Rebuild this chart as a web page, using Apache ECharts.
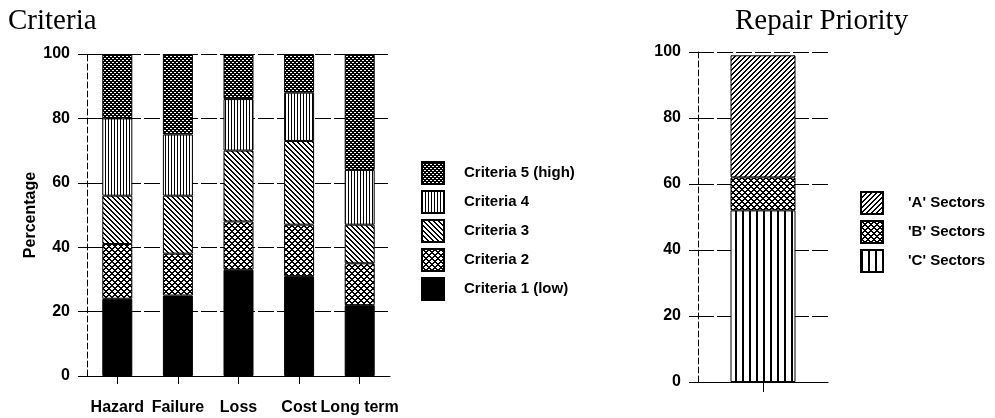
<!DOCTYPE html>
<html><head><meta charset="utf-8">
<script src="https://cdn.jsdelivr.net/npm/echarts@6/dist/echarts.min.js"></script>
<style>html,body{margin:0;padding:0;background:#fff}#c{width:995px;height:418px}</style>
</head><body><div id="c"></div>
<script>
// ---- data ----
const categories = ['Hazard', 'Failure', 'Loss', 'Cost', 'Long term'];
const criteriaNames = ['Criteria 1 (low)', 'Criteria 2', 'Criteria 3', 'Criteria 4', 'Criteria 5 (high)'];
const criteria1 = [24, 25, 33, 31, 22];
const criteria2 = [17, 13, 15, 16, 13];
const criteria3 = [15, 18, 22, 26, 12];
const criteria4 = [24, 19, 16, 15, 17];
const criteria5 = [20, 25, 14, 12, 36];
const sectorNames = ["'C' Sectors", "'B' Sectors", "'A' Sectors"];
const sectorC = [52];
const sectorB = [10];
const sectorA = [37];
const yTicks = [0, 20, 40, 60, 80, 100];

// ---- patterns ----
function pat(w, h, fn) {
  const c = document.createElement('canvas');
  c.width = w; c.height = h;
  const ctx = c.getContext('2d');
  ctx.fillStyle = '#fff'; ctx.fillRect(0, 0, w, h);
  ctx.fillStyle = '#000';
  for (let y = 0; y < h; y++) for (let x = 0; x < w; x++) if (fn(x, y)) ctx.fillRect(x, y, 1, 1);
  return { image: c, repeat: 'repeat' };
}
const md = (a, n) => ((a % n) + n) % n;
const P = {
  c1: '#000',
  c2: pat(6, 6, (x, y) => md(x + y, 6) < 2 || md(x - y, 6) < 2),
  c3: pat(5, 5, (x, y) => md(x - y, 5) < 2),
  c4: pat(3, 1, (x) => x === 0),
  c5: pat(4, 4, (x, y) => md(x + y, 4) < 2 || md(x - y, 4) < 2),
  A: pat(5, 5, (x, y) => md(x + y, 5) < 2),
  B: pat(6, 6, (x, y) => md(x + y, 6) < 2 || md(x - y, 6) < 2),
  C: pat(7, 1, (x) => x < 2)
};

const FONT = 'Liberation Sans';
const crit = [criteria1, criteria2, criteria3, criteria4, criteria5];
const critColors = [P.c1, P.c2, P.c3, P.c4, P.c5];
const sect = [sectorC, sectorB, sectorA];
const sectColors = [P.C, P.B, P.A];

const series = [];
crit.forEach((d, i) => series.push({
  name: criteriaNames[i], type: 'bar', stack: 'crit', xAxisIndex: 0, yAxisIndex: 0,
  data: d, barWidth: 30,
  itemStyle: { color: critColors[i], borderColor: '#000', borderWidth: 1 }
}));
sect.forEach((d, i) => series.push({
  name: sectorNames[i], type: 'bar', stack: 'sect', xAxisIndex: 1, yAxisIndex: 1,
  data: d, barWidth: 65,
  itemStyle: { color: sectColors[i], borderColor: '#000', borderWidth: 1 }
}));

function yAxis(grid, name) {
  return {
    type: 'value', gridIndex: grid, min: 0, max: 100, interval: 20,
    name: name, nameLocation: 'middle', nameGap: 48,
    nameTextStyle: { fontFamily: FONT, fontWeight: 'bold', fontSize: 16, color: '#000' },
    axisLine: { show: true, lineStyle: { color: '#000', type: [6, 3], width: 1 } },
    axisTick: { show: true, length: 9, lineStyle: { color: '#000' } },
    axisLabel: { fontFamily: FONT, fontWeight: 'bold', fontSize: 16, color: '#000', margin: 17,
      formatter: v => yTicks.includes(v) ? String(v) : '' },
    splitLine: { show: true, lineStyle: { color: '#000', type: [16, 3], width: 1.2 } }
  };
}

const chart = echarts.init(document.getElementById('c'), null, { renderer: 'canvas' });
chart.setOption({
  animation: false,
  backgroundColor: '#fff',
  title: [
    { text: 'Criteria', left: 8, top: 7, padding: 0, textStyle: { fontFamily: 'Liberation Serif', fontWeight: 'normal', fontSize: 29, color: '#000' } },
    { text: 'Repair Priority', left: 735, top: 7, padding: 0, textStyle: { fontFamily: 'Liberation Serif', fontWeight: 'normal', fontSize: 29, color: '#000' } }
  ],
  grid: [
    { left: 87, right: 605, top: 54, bottom: 42 },
    { left: 698, right: 167, top: 52, bottom: 36 }
  ],
  legend: [
    { data: criteriaNames.slice().reverse(), orient: 'vertical', left: 421, top: 161, padding: 0,
      itemWidth: 22, itemHeight: 22, itemGap: 5, icon: 'rect', selectedMode: false,
      textStyle: { fontFamily: FONT, fontWeight: 'bold', fontSize: 15, color: '#000', padding: [0, 0, 0, 15] } },
    { data: sectorNames.slice().reverse(), orient: 'vertical', left: 860, top: 191, padding: 0,
      itemWidth: 22, itemHeight: 22, itemGap: 5, icon: 'rect', selectedMode: false,
      textStyle: { fontFamily: FONT, fontWeight: 'bold', fontSize: 15, color: '#000', padding: [0, 0, 0, 20] } }
  ],
  xAxis: [
    { type: 'category', gridIndex: 0, data: categories,
      axisLine: { show: true, lineStyle: { color: '#000', width: 1.2 } },
      axisTick: { show: true, alignWithLabel: true, length: 8, lineStyle: { color: '#000' } },
      axisLabel: { fontFamily: FONT, fontWeight: 'bold', fontSize: 16, color: '#000', margin: 24, interval: 0 } },
    { type: 'category', gridIndex: 1, data: [''],
      axisLine: { show: true, lineStyle: { color: '#000', width: 1.2 } },
      axisTick: { show: true, alignWithLabel: true, length: 10, lineStyle: { color: '#000' } },
      axisLabel: { show: false } }
  ],
  yAxis: [yAxis(0, 'Percentage'), yAxis(1, '')],
  series: series
});
</script></body></html>
